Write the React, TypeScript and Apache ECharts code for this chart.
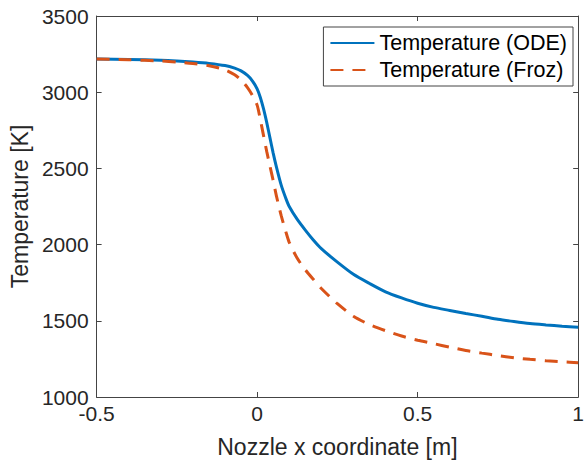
import React, { useEffect, useRef } from "react";
import * as echarts from "echarts";

const xs = [-0.5, -0.4, -0.3, -0.25, -0.2, -0.15, -0.1, -0.07, -0.05, -0.03, -0.015, 0, 0.01, 0.02, 0.03, 0.04, 0.05, 0.06, 0.075, 0.09, 0.1, 0.125, 0.15, 0.175, 0.2, 0.25, 0.3, 0.35, 0.4, 0.45, 0.5, 0.55, 0.6, 0.65, 0.7, 0.75, 0.8, 0.85, 0.9, 0.95, 1.0];
const tempODE = [3218, 3215, 3210, 3205, 3198, 3189, 3175, 3158, 3140, 3110, 3075, 3022, 2965, 2890, 2800, 2700, 2600, 2510, 2390, 2300, 2250, 2165, 2095, 2030, 1973, 1885, 1805, 1745, 1690, 1650, 1615, 1588, 1568, 1548, 1530, 1510, 1495, 1482, 1473, 1465, 1458];
const tempFroz = [3218, 3213, 3205, 3198, 3188, 3174, 3147, 3115, 3080, 3030, 2980, 2915, 2820, 2715, 2610, 2515, 2420, 2320, 2190, 2080, 2015, 1910, 1835, 1772, 1712, 1612, 1530, 1475, 1435, 1400, 1372, 1350, 1327, 1305, 1288, 1272, 1258, 1247, 1238, 1231, 1225];

const seriesNames = ["Temperature (ODE)", "Temperature (Froz)"];
const xTickLabels: Record<string, string> = { "-0.5": "-0.5", "0": "0", "0.5": "0.5", "1": "1" };

const FONT = "'Liberation Sans', Arial, Helvetica, sans-serif";
const AXIS_COLOR = "#444444";
const TEXT_COLOR = "#262626";

export default function App() {
  const ref = useRef<HTMLDivElement>(null);
  useEffect(() => {
    document.body.style.margin = "0";
    if (!ref.current) return;
    const chart = echarts.init(ref.current, null, { renderer: "svg" });
    const tickStyle = { show: true, inside: true, length: 5, lineStyle: { color: AXIS_COLOR, width: 1 } };
    const lineStyle = { show: true, onZero: false, lineStyle: { color: AXIS_COLOR, width: 1 } };
    chart.setOption({
      animation: false,
      backgroundColor: "#ffffff",
      textStyle: { fontFamily: FONT },
      grid: { left: 92, right: 5, top: 16, bottom: 67, containLabel: false },
      legend: {
        orient: "vertical",
        right: 14,
        top: 27,
        padding: [4, 6, 4, 6],
        itemGap: 3,
        itemWidth: 44,
        itemHeight: 14,
        backgroundColor: "#ffffff",
        borderColor: AXIS_COLOR,
        borderWidth: 1,
        borderRadius: 0,
        itemStyle: { color: "transparent", borderColor: "transparent", borderWidth: 0, opacity: 0 },
        textStyle: { fontSize: 21.5, color: "#000000", fontFamily: FONT, lineHeight: 24 },
        data: seriesNames,
      },
      xAxis: [
        {
          type: "value",
          min: -0.5,
          max: 1,
          interval: 0.5,
          position: "bottom",
          name: "Nozzle x coordinate [m]",
          nameLocation: "middle",
          nameGap: 38,
          nameTextStyle: { fontSize: 23, color: TEXT_COLOR, fontFamily: FONT },
          axisLine: lineStyle,
          axisTick: tickStyle,
          splitLine: { show: false },
          axisLabel: {
            fontSize: 21,
            color: TEXT_COLOR,
            margin: 6,
            fontFamily: FONT,
            showMinLabel: true,
            showMaxLabel: true,
            formatter: (v: number) => xTickLabels[String(v)] ?? String(v),
          },
        },
        {
          type: "value",
          min: -0.5,
          max: 1,
          interval: 0.5,
          position: "top",
          axisLine: lineStyle,
          axisTick: tickStyle,
          axisLabel: { show: false },
          splitLine: { show: false },
        },
      ],
      yAxis: [
        {
          type: "value",
          min: 1000,
          max: 3500,
          interval: 500,
          position: "left",
          name: "Temperature [K]",
          nameLocation: "middle",
          nameGap: 58,
          nameTextStyle: { fontSize: 23, color: TEXT_COLOR, fontFamily: FONT },
          axisLine: lineStyle,
          axisTick: tickStyle,
          splitLine: { show: false },
          axisLabel: {
            fontSize: 21,
            color: TEXT_COLOR,
            margin: 8,
            fontFamily: FONT,
            showMinLabel: true,
            showMaxLabel: true,
            formatter: (v: number) => String(v),
          },
        },
        {
          type: "value",
          min: 1000,
          max: 3500,
          interval: 500,
          position: "right",
          axisLine: lineStyle,
          axisTick: tickStyle,
          axisLabel: { show: false },
          splitLine: { show: false },
        },
      ],
      series: [
        {
          name: seriesNames[0],
          type: "line",
          xAxisIndex: 0,
          yAxisIndex: 0,
          data: xs.map((x, i) => [x, tempODE[i]]),
          showSymbol: false,
          symbol: "none",
          smooth: 0.25,
          color: "#0072BD",
          lineStyle: { color: "#0072BD", width: 3 },
          z: 3,
        },
        {
          name: seriesNames[1],
          type: "line",
          xAxisIndex: 0,
          yAxisIndex: 0,
          data: xs.map((x, i) => [x, tempFroz[i]]),
          showSymbol: false,
          symbol: "none",
          smooth: 0.25,
          color: "#D95319",
          lineStyle: { color: "#D95319", width: 3, type: [13, 9] },
          z: 4,
        },
      ],
    });
    return () => chart.dispose();
  }, []);
  return <div ref={ref} style={{ width: 587, height: 464 }} />;
}
